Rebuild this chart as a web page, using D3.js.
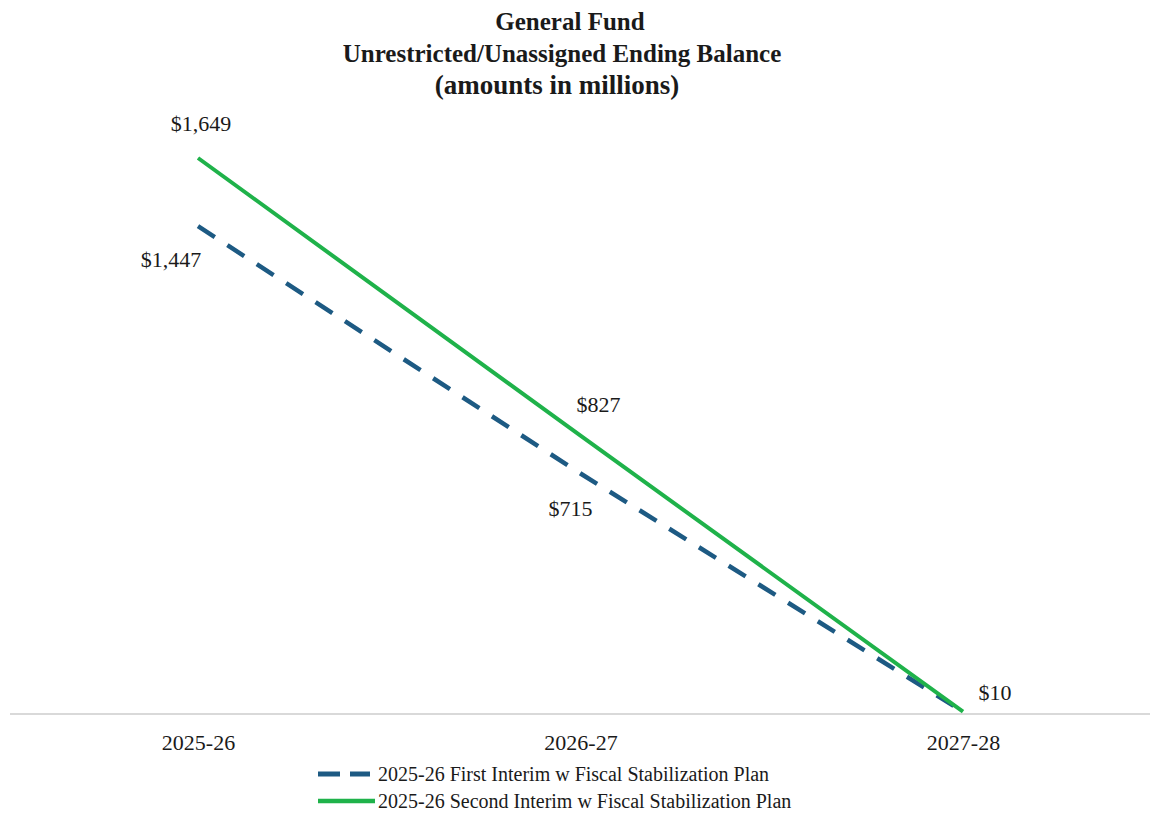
<!DOCTYPE html>
<html>
<head>
<meta charset="utf-8">
<script src="https://cdn.jsdelivr.net/npm/d3@7"></script>
<style>
  body { margin: 0; background: #fff; }
  text { font-family: "Liberation Serif", "Times New Roman", serif; fill: #1a1a1a; }
</style>
</head>
<body>
<svg id="chart" width="1150" height="820"></svg>
<script>
// Chart data
const years = ['2025-26', '2026-27', '2027-28'];
const firstInterim = [1447, 715, 10];
const secondInterim = [1649, 827, 10];
const seriesNames = [
  '2025-26 First Interim w Fiscal Stabilization Plan',
  '2025-26 Second Interim w Fiscal Stabilization Plan'
];
const titleLines = ['General Fund', 'Unrestricted/Unassigned Ending Balance', '(amounts in millions)'];

const svg = d3.select('#chart');
const width = 1150;

const blue = '#1d5a83';
const green = '#1fb24a';

const x = d3.scalePoint().domain(years).range([198, 963]);
const y = d3.scaleLinear().domain([0, 1649]).range([715, 158]);

// title (lines are not quite centred on each other in the original)
const titleX = [570, 562, 557];
svg.selectAll('.title')
  .data(titleLines)
  .enter()
  .append('text')
  .attr('x', (d, i) => titleX[i])
  .attr('y', (d, i) => 30 + i * 32)
  .attr('text-anchor', 'middle')
  .attr('font-size', (d, i) => (i === 2 ? 27 : 25))
  .attr('font-weight', 'bold')
  .text((d) => d);

// x axis
const xAxis = svg.append('g')
  .attr('transform', `translate(0,${y(0) - 1})`)
  .call(d3.axisBottom(x).tickSize(0).tickPadding(20));
xAxis.select('.domain').remove();
xAxis.append('line')
  .attr('x1', 10)
  .attr('x2', width)
  .attr('stroke', '#d9d9d9')
  .attr('stroke-width', 2);
xAxis.selectAll('.tick text')
  .attr('font-size', 22)
  .attr('font-family', '"Liberation Serif", serif')
  .attr('fill', '#1a1a1a');

const line = d3.line()
  .x((d, i) => x(years[i]))
  .y((d) => y(d));

svg.append('path')
  .datum(firstInterim)
  .attr('d', line)
  .attr('fill', 'none')
  .attr('stroke', blue)
  .attr('stroke-width', 4.5)
  .attr('stroke-dasharray', '20,15');

svg.append('path')
  .datum(secondInterim)
  .attr('d', line)
  .attr('fill', 'none')
  .attr('stroke', green)
  .attr('stroke-width', 4);

// data labels
const fmt = (v) => '$' + d3.format(',')(v);
const blueOffsets = [[-27, 41], [-10, 43], null];
const greenOffsets = [[3, -27], [18, -24], [32, -12]];

svg.selectAll('.lblBlue')
  .data(firstInterim)
  .enter()
  .filter((d, i) => blueOffsets[i])
  .append('text')
  .attr('x', (d, i) => x(years[i]) + blueOffsets[i][0])
  .attr('y', (d, i) => y(d) + blueOffsets[i][1])
  .attr('text-anchor', 'middle')
  .attr('font-size', 22)
  .text(fmt);

svg.selectAll('.lblGreen')
  .data(secondInterim)
  .enter()
  .append('text')
  .attr('x', (d, i) => x(years[i]) + greenOffsets[i][0])
  .attr('y', (d, i) => y(d) + greenOffsets[i][1])
  .attr('text-anchor', 'middle')
  .attr('font-size', 22)
  .text(fmt);

// legend
const legend = svg.append('g').attr('transform', 'translate(318,774)');
const items = legend.selectAll('g')
  .data(seriesNames)
  .enter()
  .append('g')
  .attr('transform', (d, i) => `translate(0,${i * 27})`);

items.append('line')
  .attr('x1', 0)
  .attr('x2', (d, i) => (i === 0 ? 52 : 57))
  .attr('stroke', (d, i) => (i === 0 ? blue : green))
  .attr('stroke-width', (d, i) => (i === 0 ? 5 : 4.5))
  .attr('stroke-dasharray', (d, i) => (i === 0 ? '22,10' : null));

items.append('text')
  .attr('x', 60)
  .attr('y', 7)
  .attr('font-size', 20)
  .text((d) => d);
</script>
</body>
</html>
